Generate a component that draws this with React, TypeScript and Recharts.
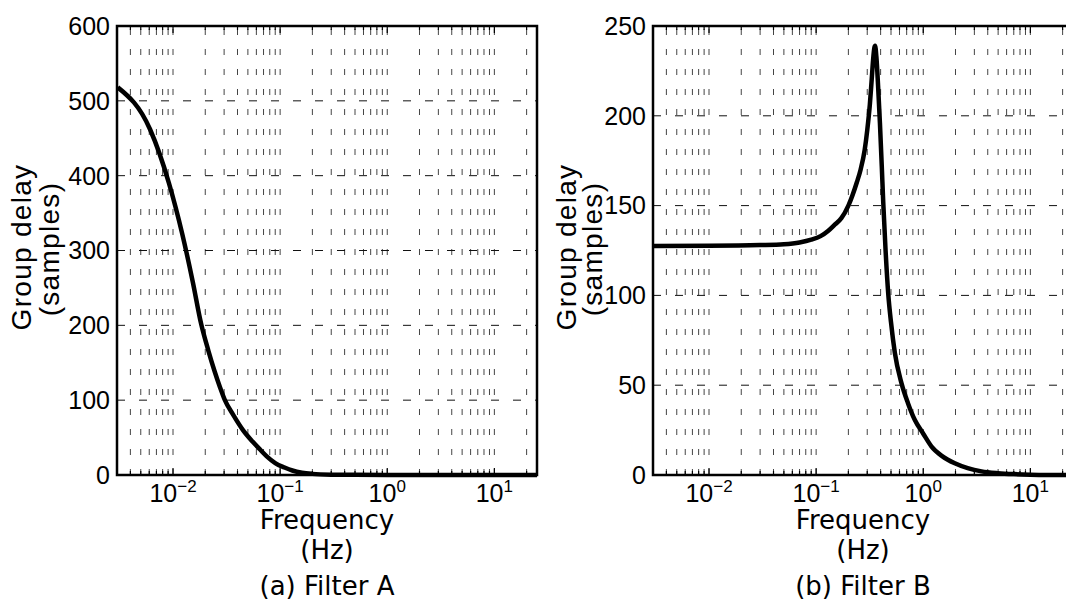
import React from "react";
import { LineChart, Line, XAxis, YAxis, CartesianGrid, ReferenceArea } from "recharts";

// Filter A: group delay vs frequency (Hz)
const freqA = [0.00305, 0.0061, 0.00916, 0.0122, 0.0153, 0.0183, 0.0214, 0.0244, 0.0275, 0.0305, 0.0366, 0.045, 0.055, 0.065, 0.075, 0.09, 0.11, 0.13, 0.16, 0.2, 0.3, 0.5, 1, 2, 5, 10, 25];
const delayA = [518, 462, 390, 322, 258, 202, 166, 139, 117, 100, 80, 60, 45, 34, 25, 16, 10, 6, 3, 1.5, 0.5, 0.2, 0, 0, 0, 0, 0];

// Filter B
const freqB = [0.00305, 0.01, 0.03, 0.05, 0.07, 0.09, 0.11, 0.13, 0.15, 0.172, 0.2, 0.24, 0.26, 0.284, 0.3, 0.317, 0.33, 0.34, 0.35, 0.355, 0.365, 0.38, 0.394, 0.41, 0.423, 0.445, 0.471, 0.5, 0.543, 0.627, 0.72, 0.835, 1, 1.19, 1.5, 1.97, 2.6, 3.5, 5, 7, 10, 15, 25];
const delayB = [127.5, 127.6, 128, 128.5, 129.5, 131, 133, 136, 139.5, 143, 150, 163, 170, 181, 192, 206, 220, 231, 238, 239, 233, 215, 196, 172, 152, 125, 101, 85, 68, 51, 40, 30.6, 23, 16, 10.5, 6.5, 3.8, 2, 1, 0.5, 0.2, 0.05, 0];

const xDomain = [0.003, 25];
const xGridTicks = [
  0.004, 0.005, 0.006, 0.007, 0.008, 0.009,
  0.01, 0.02, 0.03, 0.04, 0.05, 0.06, 0.07, 0.08, 0.09,
  0.1, 0.2, 0.3, 0.4, 0.5, 0.6, 0.7, 0.8, 0.9,
  1, 2, 3, 4, 5, 6, 7, 8, 9,
  10, 20,
];
const decades = [0.01, 0.1, 1, 10];
const decadeExp = ["−2", "−1", "0", "1"];

const yTicksA = [0, 100, 200, 300, 400, 500, 600];
const yTicksB = [0, 50, 100, 150, 200, 250];

const tickFont = "'Liberation Sans', Arial, Helvetica, sans-serif";
const labelFont = "'DejaVu Sans', sans-serif";

function BottomTick(props: any) {
  const { x, y, payload } = props;
  const i = decades.indexOf(payload.value);
  const major = i >= 0;
  return (
    <g>
      <line x1={x} x2={x} y1={y} y2={y - (major ? 7 : 4)} stroke="#000" strokeWidth={1.2} />
      {major && (
        <text x={x} y={y + 27} textAnchor="middle" fontFamily={tickFont} fontSize={25} fill="#000">
          10
          <tspan dy={-10} fontSize={17}>{decadeExp[i]}</tspan>
        </text>
      )}
    </g>
  );
}

function TopTick(props: any) {
  const { x, y, payload } = props;
  const major = decades.indexOf(payload.value) >= 0;
  return <line x1={x} x2={x} y1={y} y2={y + (major ? 7 : 4)} stroke="#000" strokeWidth={1.2} />;
}

function Panel({ left, freqs, delays, yMax, yTicks, caption, lab1, lab2 }: any) {
  const data = freqs.map((f: number, i: number) => ({ f, d: delays[i] }));
  const cx = 117 + 210;
  return (
    <div style={{ position: "absolute", left, top: 0, width: 560, height: 601 }}>
      <LineChart width={560} height={601} data={data} margin={{ top: 25, right: 23, bottom: 96, left: 57 }}>
        <CartesianGrid horizontal={false} stroke="#444" strokeWidth={1} strokeDasharray="6 14" strokeDashoffset={17} />
        <CartesianGrid vertical={false} stroke="#111" strokeWidth={1} strokeDasharray="8 14" />
        <XAxis
          dataKey="f"
          type="number"
          scale="log"
          domain={xDomain}
          allowDataOverflow
          ticks={xGridTicks}
          interval={0}
          height={30}
          tickSize={0}
          tickMargin={0}
          tickLine={false}
          tick={<BottomTick />}
          axisLine={{ stroke: "#000", strokeWidth: 2 }}
        />
        <XAxis
          xAxisId="top"
          orientation="top"
          dataKey="f"
          type="number"
          scale="log"
          domain={xDomain}
          allowDataOverflow
          ticks={xGridTicks}
          interval={0}
          height={1}
          tickSize={0}
          tickMargin={0}
          tickLine={false}
          tick={<TopTick />}
          axisLine={{ stroke: "#000", strokeWidth: 2 }}
        />
        <YAxis
          type="number"
          domain={[0, yMax]}
          ticks={yTicks}
          interval={0}
          width={60}
          tickSize={0}
          tickMargin={7}
          tickLine={false}
          tick={{ fill: "#000", fontSize: 25, fontFamily: tickFont }}
          axisLine={{ stroke: "#000", strokeWidth: 2 }}
        />
        <Line
          type="monotone"
          dataKey="d"
          stroke="#000"
          strokeWidth={4.5}
          dot={false}
          isAnimationActive={false}
        />
        <ReferenceArea
          x1={xDomain[0]}
          x2={xDomain[1]}
          y1={0}
          y2={yMax}
          ifOverflow="visible"
          fill="none"
          fillOpacity={0}
          stroke="#000"
          strokeWidth={2.5}
        />
      </LineChart>
      <svg width={560} height={601} style={{ position: "absolute", left: 0, top: 0, pointerEvents: "none" }}>
        <text transform={`rotate(-90 ${lab1} 247)`} x={lab1} y={247} textAnchor="middle" fontFamily={tickFont} fontSize={28} letterSpacing={1.3} fill="#000">
          Group delay
        </text>
        <text transform={`rotate(-90 ${lab2} 249)`} x={lab2} y={249} textAnchor="middle" fontFamily={tickFont} fontSize={28} letterSpacing={1.3} fill="#000">
          (samples)
        </text>
        <text x={cx} y={529} textAnchor="middle" fontFamily={labelFont} fontSize={26} fill="#000">
          Frequency
        </text>
        <text x={cx} y={559} textAnchor="middle" fontFamily={labelFont} fontSize={26} fill="#000">
          (Hz)
        </text>
        <text x={cx} y={595} textAnchor="middle" fontFamily={labelFont} fontSize={26} fill="#000">
          {caption}
        </text>
      </svg>
    </div>
  );
}

export default function App() {
  return (
    <div style={{ position: "absolute", left: 0, top: 0, width: 1066, height: 601, overflow: "hidden", background: "#fff" }}>
      <Panel left={0} freqs={freqA} delays={delayA} yMax={600} yTicks={yTicksA} caption="(a) Filter A" lab1={31} lab2={59} />
      <Panel left={536} freqs={freqB} delays={delayB} yMax={250} yTicks={yTicksB} caption="(b) Filter B" lab1={40} lab2={66} />
    </div>
  );
}
